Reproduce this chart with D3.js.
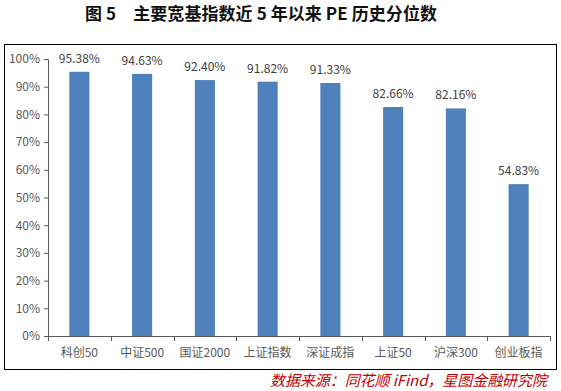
<!DOCTYPE html>
<html>
<head>
<meta charset="utf-8">
<script src="https://cdn.jsdelivr.net/npm/d3@7"></script>
<style>
  body { margin: 0; background: #fff; }
  svg { display: block; }
</style>
</head>
<body>
<svg id="chart" width="561" height="391"></svg>
<script>
// values
var categories = ["科创50", "中证500", "国证2000", "上证指数", "深证成指", "上证50", "沪深300", "创业板指"];
var pe_pct = [95.38, 94.63, 92.40, 91.82, 91.33, 82.66, 82.16, 54.83];
var y_ticks = [0, 10, 20, 30, 40, 50, 60, 70, 80, 90, 100];

var title_txt = "图 5\u3000主要宽基指数近 5 年以来 PE 历史分位数";
var source_txt = "数据来源：同花顺 iFind，星图金融研究院";

var width = 561, height = 391;
var svg = d3.select("#chart");
var font = "'Noto Sans CJK SC', 'Noto Sans', sans-serif";

// title
svg.append("text")
	.attr("x", 261)
	.attr("y", 20)
	.attr("text-anchor", "middle")
	.attr("textLength", 352)
	.attr("lengthAdjust", "spacing")
	.style("font-family", "'Noto Sans CJK SC', serif")
	.style("font-weight", "bold")
	.style("font-size", "17px")
	.style("fill", "#111")
	.text(title_txt);

// outer frame
svg.append("rect")
	.attr("x", 4.5).attr("y", 44.5)
	.attr("width", 552).attr("height", 325)
	.style("fill", "none")
	.style("stroke", "#000")
	.style("stroke-width", 1);

var plot = {left: 48, right: 550, top: 59, bottom: 336};

var x = d3.scaleBand()
	.domain(categories)
	.range([plot.left, plot.right])
	.paddingInner(0.68)
	.paddingOuter(0.34);

var y = d3.scaleLinear()
	.domain([0, 100])
	.range([plot.bottom, plot.top]);

// bars
svg.selectAll("rect.bar")
	.data(pe_pct)
	.enter()
		.append("rect")
		.attr("class", "bar")
		.attr("x", function(d, i){return x(categories[i])})
		.attr("width", x.bandwidth())
		.attr("y", function(d){return y(d)})
		.attr("height", function(d){return y(0) - y(d)})
		.style("fill", "#4F81BD");

// value labels
svg.selectAll("text.val")
	.data(pe_pct)
	.enter()
		.append("text")
		.attr("class", "val")
		.attr("x", function(d, i){return x(categories[i]) + x.bandwidth() / 2})
		.attr("y", function(d){return y(d) - 9})
		.attr("text-anchor", "middle")
		.style("font-family", font)
		.style("font-size", "12px")
		.style("fill", "#404040")
		.text(function(d){return d.toFixed(2) + "%"});

// y axis
var yAxis = svg.append("g")
	.attr("transform", "translate(" + plot.left + ",0)")
	.call(d3.axisLeft(y).tickValues(y_ticks).tickSize(4).tickPadding(4)
		.tickFormat(function(d){return d + "%"}));
yAxis.select(".domain").attr("stroke", "#595959");
yAxis.selectAll(".tick line").attr("stroke", "#595959");
yAxis.selectAll("text")
	.style("font-family", font)
	.style("font-size", "12px")
	.style("fill", "#595959");

// x axis with ticks between categories
var xAxis = svg.append("g")
	.attr("transform", "translate(0," + plot.bottom + ")");
xAxis.append("line")
	.attr("x1", plot.left).attr("x2", plot.right)
	.attr("y1", 0.5).attr("y2", 0.5)
	.attr("stroke", "#595959");
var bounds = d3.range(categories.length + 1).map(function(i){return plot.left + i * (plot.right - plot.left) / categories.length});
xAxis.selectAll("line.tk")
	.data(bounds)
	.enter()
		.append("line")
		.attr("class", "tk")
		.attr("x1", function(d){return Math.round(d) + 0.5})
		.attr("x2", function(d){return Math.round(d) + 0.5})
		.attr("y1", 0).attr("y2", 5)
		.attr("stroke", "#595959");
xAxis.selectAll("text")
	.data(categories)
	.enter()
		.append("text")
		.attr("x", function(d){return x(d) + x.bandwidth() / 2})
		.attr("y", 21)
		.attr("text-anchor", "middle")
		.style("font-family", font)
		.style("font-size", "12px")
		.style("fill", "#595959")
		.text(function(d){return d});

// source note
svg.append("text")
	.attr("x", 547)
	.attr("y", 386)
	.attr("text-anchor", "end")
	.attr("textLength", 277)
	.attr("lengthAdjust", "spacing")
	.style("font-family", font)
	.style("font-style", "italic")
	.style("font-size", "15px")
	.style("fill", "#C00000")
	.text(source_txt);
</script>
</body>
</html>
